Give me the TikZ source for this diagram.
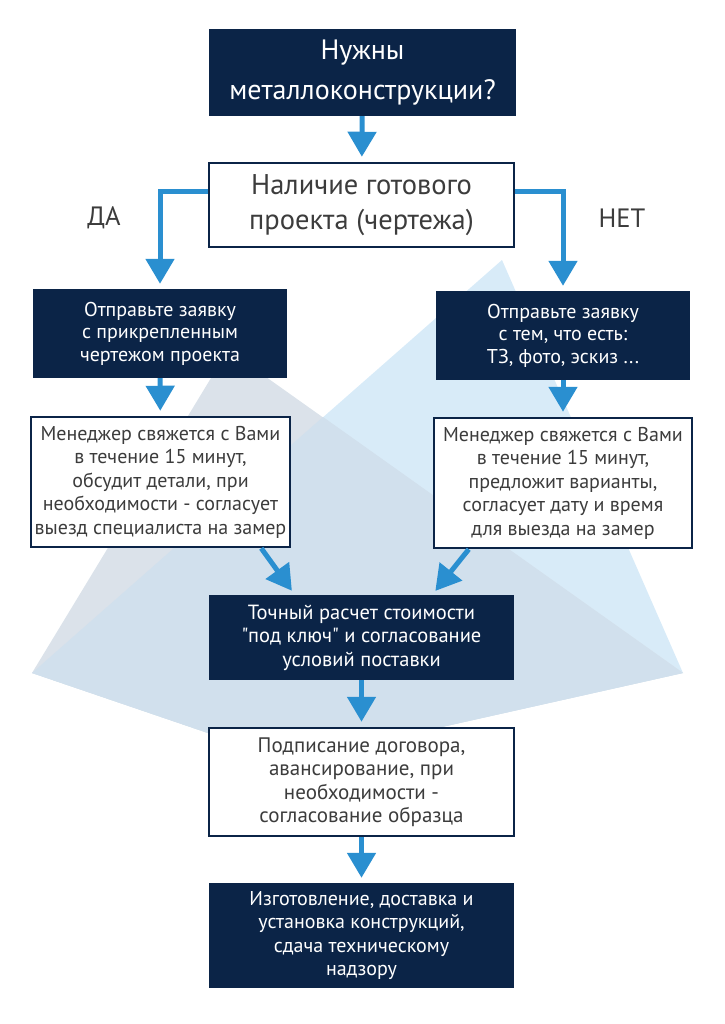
\documentclass[tikz,border=0pt]{standalone}
\usepackage{fontspec}
\setmainfont{PT Sans}[Ligatures=TeXOff]
\usepackage{xcolor}
\usetikzlibrary{arrows.meta}

\definecolor{navy}{HTML}{0B2447}
\definecolor{arrowblue}{HTML}{2A8FD0}
\definecolor{textgray}{HTML}{3C3C3C}
\definecolor{paleblue}{HTML}{D8EBF8}
\definecolor{palegray}{HTML}{DBE2EA}
\definecolor{palemix}{HTML}{D1E0ED}

\begin{document}
\begin{tikzpicture}[x=1pt,y=-1pt]
\tikzset{darkbox/.style={fill=navy,text=white,align=center,inner sep=0pt}}
\tikzset{lightbox/.style={fill=white,draw=navy,line width=2.5pt,text=textgray,align=center,inner sep=0pt}}
\tikzset{arr/.style={draw=arrowblue,line width=5pt,-{Triangle[width=28pt,length=25pt]},shorten >=5pt}}
\tikzset{label/.style={text=textgray,font=\fontsize{26.5}{30}\selectfont}}
\tikzset{small/.style={font=\fontsize{20}{23.5}\selectfont}}

\useasboundingbox (0,0) rectangle (724,1024);

\fill[paleblue] (502,260) -- (683,673) -- (290,761) -- (32,673) -- cycle;
\fill[palegray] (228,350) -- (683,673) -- (290,761) -- (32,673) -- cycle;
\fill[palemix] (323,417) -- (683,673) -- (290,761) -- (32,673) -- cycle;

\node[darkbox,minimum width=307pt,minimum height=87pt,font=\fontsize{28}{40}\selectfont] (need) at (362.5,72.5) {Нужны\\металлоконструкции?};
\node[lightbox,minimum width=305pt,minimum height=84pt,font=\fontsize{28.5}{35}\selectfont] (project) at (361.5,205) {Наличие готового\\проекта (чертежа)};

\node[label] (yes) at (104,218) {ДА};
\node[label] (no) at (622,218) {НЕТ};

\node[darkbox,font=\fontsize{20}{22.5}\selectfont,minimum width=254pt,minimum height=89pt] (sendyes) at (160,333.5) {Отправьте заявку\\с прикрепленным\\чертежом проекта};
\node[darkbox,font=\fontsize{20}{22.5}\selectfont,minimum width=254pt,minimum height=89pt] (sendno) at (563,335.5) {Отправьте заявку\\с тем, что есть:\\ТЗ, фото, эскиз ...};

\node[lightbox,small,minimum width=259pt,minimum height=130pt] (callyes) at (160.5,482) {Менеджер свяжется с Вами\\в течение 15 минут,\\обсудит детали, при\\необходимости - согласует\\выезд специалиста на замер};
\node[lightbox,small,minimum width=258pt,minimum height=130pt] (callno) at (563,483) {Менеджер свяжется с Вами\\в течение 15 минут,\\предложит варианты,\\согласует дату и время\\для выезда на замер};

\node[darkbox,font=\fontsize{20.5}{23.5}\selectfont,minimum width=305pt,minimum height=85pt] (price) at (361.5,637.5) {Точный расчет стоимости\\"под ключ" и согласование\\условий поставки};
\node[lightbox,font=\fontsize{21}{23.5}\selectfont,minimum width=305pt,minimum height=108pt] (contract) at (361.5,782) {Подписание договора,\\авансирование, при\\необходимости -\\согласование образца};
\node[darkbox,small,minimum width=305pt,minimum height=105pt] (build) at (361.5,935.5) {Изготовление, доставка и\\установка конструкций,\\сдача техническому\\надзору};

\draw[arr] (need) -- (project);
\draw[arr] ([yshift=13pt]project.west) -| (sendyes.north);
\draw[arr] ([yshift=13pt]project.east) -| (sendno.north);
\draw[arr] (sendyes) -- (callyes);
\draw[arr] (sendno) -- (callno);
\draw[arr] ([xshift=-30pt]callyes.south east) -- ([xshift=86pt]price.north west);
\draw[arr] ([xshift=36pt]callno.south west) -- ([xshift=-82pt]price.north east);
\draw[arr] (price) -- (contract);
\draw[arr] (contract) -- (build);
\end{tikzpicture}
\end{document}
